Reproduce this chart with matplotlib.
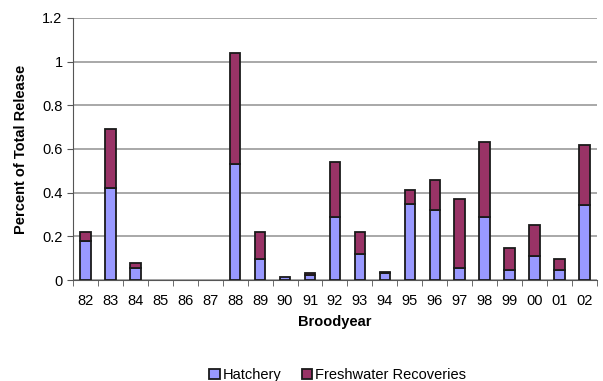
import matplotlib.pyplot as plt
import numpy as np

plt.rcParams['font.family'] = ['Liberation Sans', 'DejaVu Sans']

years = ['82', '83', '84', '85', '86', '87', '88', '89', '90', '91', '92',
         '93', '94', '95', '96', '97', '98', '99', '00', '01', '02']
hatchery = [0.18, 0.42, 0.055, 0, 0, 0, 0.53, 0.095, 0.012, 0.025, 0.29,
            0.12, 0.03, 0.35, 0.32, 0.055, 0.29, 0.045, 0.11, 0.045, 0.345]
total = [0.22, 0.69, 0.08, 0, 0, 0, 1.04, 0.22, 0.012, 0.03, 0.54,
         0.22, 0.035, 0.41, 0.46, 0.37, 0.63, 0.145, 0.25, 0.095, 0.62]
freshwater = [t - h for t, h in zip(total, hatchery)]
yticks = [0, 0.2, 0.4, 0.6, 0.8, 1.0, 1.2]
ylabels = ['0', '0.2', '0.4', '0.6', '0.8', '1', '1.2']

fig = plt.figure(figsize=(6.03, 3.81), dpi=100)
ax = fig.add_axes([0.121, 0.265, 0.869, 0.688])

x = np.arange(len(years))
h = np.array(hatchery)
f = np.array(freshwater)
mh = h > 0
mf = f > 0.001
w = 0.42
ax.bar(x[mh], h[mh], w, color='#9999FF', edgecolor='#1a1a1a', linewidth=1.3,
       label='Hatchery', zorder=3)
ax.bar(x[mf], f[mf], w, bottom=h[mf], color='#993366', edgecolor='#1a1a1a',
       linewidth=1.3, label='Freshwater Recoveries', zorder=3)

ax.set_xlim(-0.5, len(years) - 0.5)
ax.set_ylim(0, 1.2)
ax.set_yticks(yticks)
ax.set_yticklabels(ylabels, fontsize=10.5)
ax.set_xticks(x)
ax.set_xticklabels(years, fontsize=10.5)
ax.set_xticks(np.arange(len(years) + 1) - 0.5, minor=True)
ax.tick_params(axis='x', which='major', length=0, pad=10)
ax.tick_params(axis='x', which='minor', length=4, color='#555555')
ax.tick_params(axis='y', length=4, color='#555555')
ax.grid(axis='y', color='#999999', linewidth=1.2, zorder=0)
for s in ['top', 'right']:
    ax.spines[s].set_visible(False)
ax.spines['left'].set_color('#555555')
ax.spines['bottom'].set_color('#555555')

ax.set_xlabel('Broodyear', fontsize=10.5, fontweight='bold', labelpad=5)
ax.set_ylabel('Percent of Total Release', fontsize=10.5, fontweight='bold', labelpad=10)

fig.legend(loc='lower center', bbox_to_anchor=(0.56, -0.038), ncol=2, frameon=False,
           fontsize=10.5, handlelength=0.7, handleheight=0.7, handletextpad=0.2,
           columnspacing=1.4)

fig.savefig('out.png', dpi=100)
